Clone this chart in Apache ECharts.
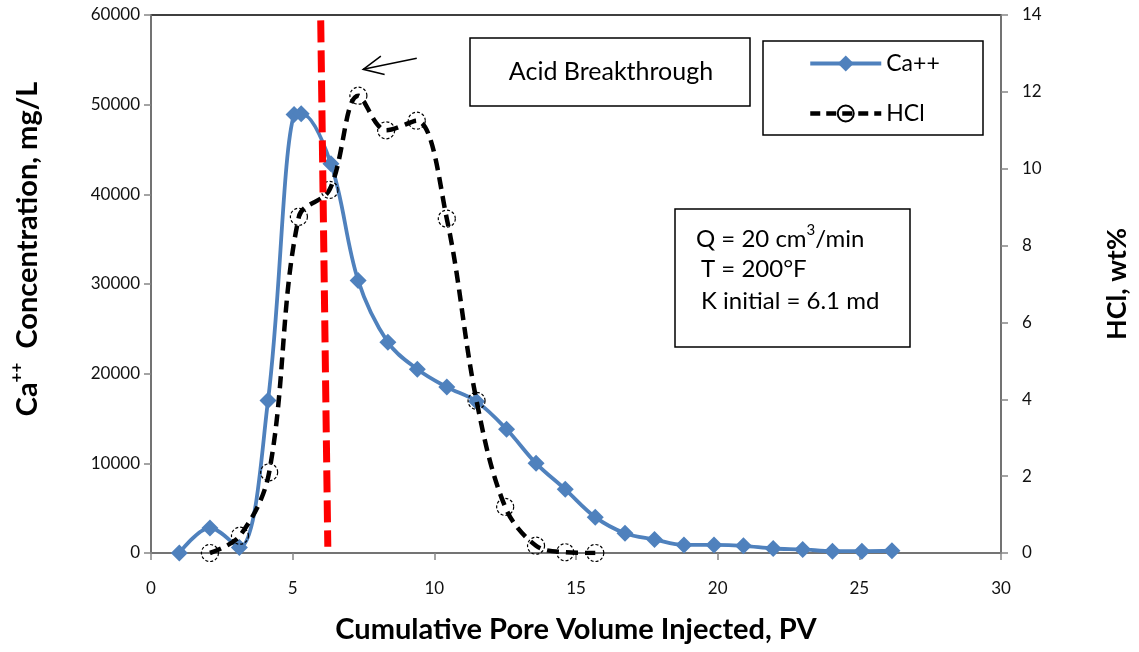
<!DOCTYPE html>
<html>
<head>
<meta charset="utf-8">
<script src="https://cdn.jsdelivr.net/npm/echarts@6/dist/echarts.min.js"></script>
<style>
html,body{margin:0;padding:0;background:#fff;}
#chart{width:1139px;height:652px;}
</style>
</head>
<body>
<div id="chart"></div>
<script>
// ---- data ----
const caPV = [1.0, 2.08, 3.12, 4.13, 5.05, 5.3, 6.35, 7.31, 8.36, 9.4, 10.44, 11.49, 12.55, 13.59, 14.62, 15.68, 16.73, 17.77, 18.81, 19.87, 20.91, 21.96, 23.0, 24.05, 25.09, 26.15];
const caConc = [0, 2800, 600, 17000, 48900, 49000, 43400, 30400, 23500, 20500, 18500, 16900, 13800, 10000, 7100, 4000, 2200, 1500, 900, 900, 800, 500, 400, 200, 200, 250];
const hclPV = [2.08, 3.14, 4.17, 5.22, 6.3, 7.32, 8.3, 9.38, 10.44, 11.49, 12.5, 13.59, 14.62, 15.68];
const hclWt = [0, 0.45, 2.1, 8.75, 9.45, 11.9, 11.0, 11.25, 8.7, 3.96, 1.2, 0.19, 0.02, 0];
const breakthroughPV = [5.99, 6.24];
const breakthroughConc = [59400, 700];
const arrowLine = [9.38, 55170, 7.49, 53940]; // tail x, tail y, tip x, tip y
const xTicks = [0, 5, 10, 15, 20, 25, 30];
const leftTicks = [0, 10000, 20000, 30000, 40000, 50000, 60000];
const rightTicks = [0, 2, 4, 6, 8, 10, 12, 14];

const FONT = 'Lato, "Open Sans", sans-serif';
const chart = echarts.init(document.getElementById('chart'), null, {renderer: 'canvas'});

const axisLineStyle = {color: '#868686', width: 1.5};
const option = {
  animation: false,
  backgroundColor: '#fff',
  textStyle: {fontFamily: FONT},
  grid: {left: 151, right: 138, top: 15, bottom: 99, show: true, borderColor: '#000', borderWidth: 1.5, backgroundColor: 'transparent'},
  legend: {
    orient: 'vertical', left: 808, top: 52, padding: 0, itemWidth: 71, itemHeight: 20, itemGap: 27,
    textStyle: {fontFamily: FONT, fontSize: 23, color: '#000'},
    data: [
      {name: 'Ca++', lineStyle: {width: 4, color: '#4F81BD'}},
      {name: 'HCl', lineStyle: {width: 4.5, color: '#000', type: [10, 6]}}
    ]
  },
  xAxis: {
    type: 'value', min: xTicks[0], max: xTicks[xTicks.length - 1], interval: 5,
    name: 'Cumulative Pore Volume Injected, PV', nameLocation: 'middle', nameGap: 62,
    nameTextStyle: {fontFamily: FONT, fontWeight: 'bold', fontSize: 29, color: '#000'},
    axisLine: {lineStyle: axisLineStyle}, axisTick: {show: true, length: 7, lineStyle: axisLineStyle},
    axisLabel: {fontFamily: FONT, fontSize: 17, color: '#111', margin: 27},
    splitLine: {show: false}
  },
  yAxis: [{
    type: 'value', min: leftTicks[0], max: leftTicks[leftTicks.length - 1], interval: 10000,
    name: '{b|Ca}{s|++}{b|  Concentration, mg/L}', nameLocation: 'middle', nameGap: 109, nameRotate: 90,
    nameTextStyle: {fontFamily: FONT, color: '#000', padding: [0, 0, 0, 70],
      rich: {b: {fontFamily: FONT, fontWeight: 'bold', fontSize: 29, lineHeight: 34, color: '#000', verticalAlign: 'bottom'},
             s: {fontFamily: FONT, fontWeight: 'bold', fontSize: 17, lineHeight: 34, color: '#000', verticalAlign: 'top'}}},
    axisLine: {show: true, lineStyle: axisLineStyle}, axisTick: {show: true, length: 7, lineStyle: axisLineStyle},
    axisLabel: {fontFamily: FONT, fontSize: 17, color: '#111', margin: 11, formatter: function (v) { return String(v); }},
    splitLine: {show: false}
  }, {
    type: 'value', min: rightTicks[0], max: rightTicks[rightTicks.length - 1], interval: 2, position: 'right',
    name: 'HCl, wt%', nameLocation: 'middle', nameGap: 103, nameRotate: 90,
    nameTextStyle: {fontFamily: FONT, fontWeight: 'bold', fontSize: 27, color: '#000'},
    axisLine: {show: true, lineStyle: axisLineStyle}, axisTick: {show: true, length: 7, lineStyle: axisLineStyle},
    axisLabel: {fontFamily: FONT, fontSize: 17, color: '#111', margin: 21},
    splitLine: {show: false}
  }],
  series: [{
    name: 'Ca++', type: 'line', yAxisIndex: 0, smooth: 0.35,
    data: caPV.map((x, i) => [x, caConc[i]]),
    symbol: 'diamond', symbolSize: 17,
    lineStyle: {color: '#4F81BD', width: 3.8},
    itemStyle: {color: '#4F81BD'}, z: 2
  }, {
    name: 'HCl', type: 'line', yAxisIndex: 1, smooth: 0.35,
    data: hclPV.map((x, i) => [x, hclWt[i]]),
    symbol: 'circle', symbolSize: 17,
    lineStyle: {color: '#000', width: 4.5, type: [12, 7]},
    itemStyle: {color: 'rgba(255,255,255,0)', borderColor: '#000', borderWidth: 1.2, borderType: [3, 2]}, z: 3
  }, {
    name: 'breakthrough', type: 'line', yAxisIndex: 0, symbol: 'none', silent: true,
    data: breakthroughPV.map((x, i) => [x, breakthroughConc[i]]),
    lineStyle: {color: '#FF0000', width: 7, type: [22, 8]}, z: 5
  }, {
    name: 'arrow', type: 'custom', yAxisIndex: 0, silent: true, z: 6,
    encode: {x: [0, 2], y: [1, 3]},
    data: [arrowLine],
    renderItem: function (params, api) {
      const tail = api.coord([api.value(0), api.value(1)]);
      const tip = api.coord([api.value(2), api.value(3)]);
      const ang = Math.atan2(tail[1] - tip[1], tail[0] - tip[0]);
      const L = 22, a = 25 * Math.PI / 180;
      const p1 = [tip[0] + L * Math.cos(ang + a), tip[1] + L * Math.sin(ang + a)];
      const p2 = [tip[0] + L * Math.cos(ang - a), tip[1] + L * Math.sin(ang - a)];
      return {type: 'group', children: [
        {type: 'line', shape: {x1: tail[0], y1: tail[1], x2: tip[0], y2: tip[1]}, style: {stroke: '#000', lineWidth: 1.5}},
        {type: 'polyline', shape: {points: [p1, tip, p2]}, style: {stroke: '#000', lineWidth: 1.5, fill: null}}
      ]};
    }
  }],
  graphic: [
    {type: 'rect', shape: {x: 470, y: 38, width: 280, height: 68}, style: {fill: '#fff', stroke: '#000', lineWidth: 1.5}, z: 10},
    {type: 'text', x: 611, y: 72, style: {text: 'Acid Breakthrough', font: '25px ' + FONT, fill: '#000', align: 'center', verticalAlign: 'middle'}, z: 11},
    {type: 'rect', shape: {x: 763, y: 41, width: 220, height: 94}, style: {fill: 'transparent', stroke: '#000', lineWidth: 1.5}, z: 10},
    {type: 'rect', shape: {x: 675, y: 209, width: 235, height: 138}, style: {fill: '#fff', stroke: '#000', lineWidth: 1.5}, z: 10},
    {type: 'text', x: 696, y: 237, style: {
      text: '{t|Q = 20 cm}{u|3}{t|/min}', fill: '#000', align: 'left', verticalAlign: 'middle',
      rich: {t: {fontFamily: FONT, fontSize: 24, lineHeight: 28, verticalAlign: 'bottom'}, u: {fontFamily: FONT, fontSize: 15, lineHeight: 28, verticalAlign: 'top'}}
    }, z: 11},
    {type: 'text', x: 701, y: 269, style: {text: 'T = 200°F', font: '24px ' + FONT, fill: '#000', align: 'left', verticalAlign: 'middle'}, z: 11},
    {type: 'text', x: 701, y: 301, style: {text: 'K initial = 6.1 md', font: '24px ' + FONT, fill: '#000', align: 'left', verticalAlign: 'middle'}, z: 11}
  ]
};
chart.setOption(option);
</script>
</body>
</html>
